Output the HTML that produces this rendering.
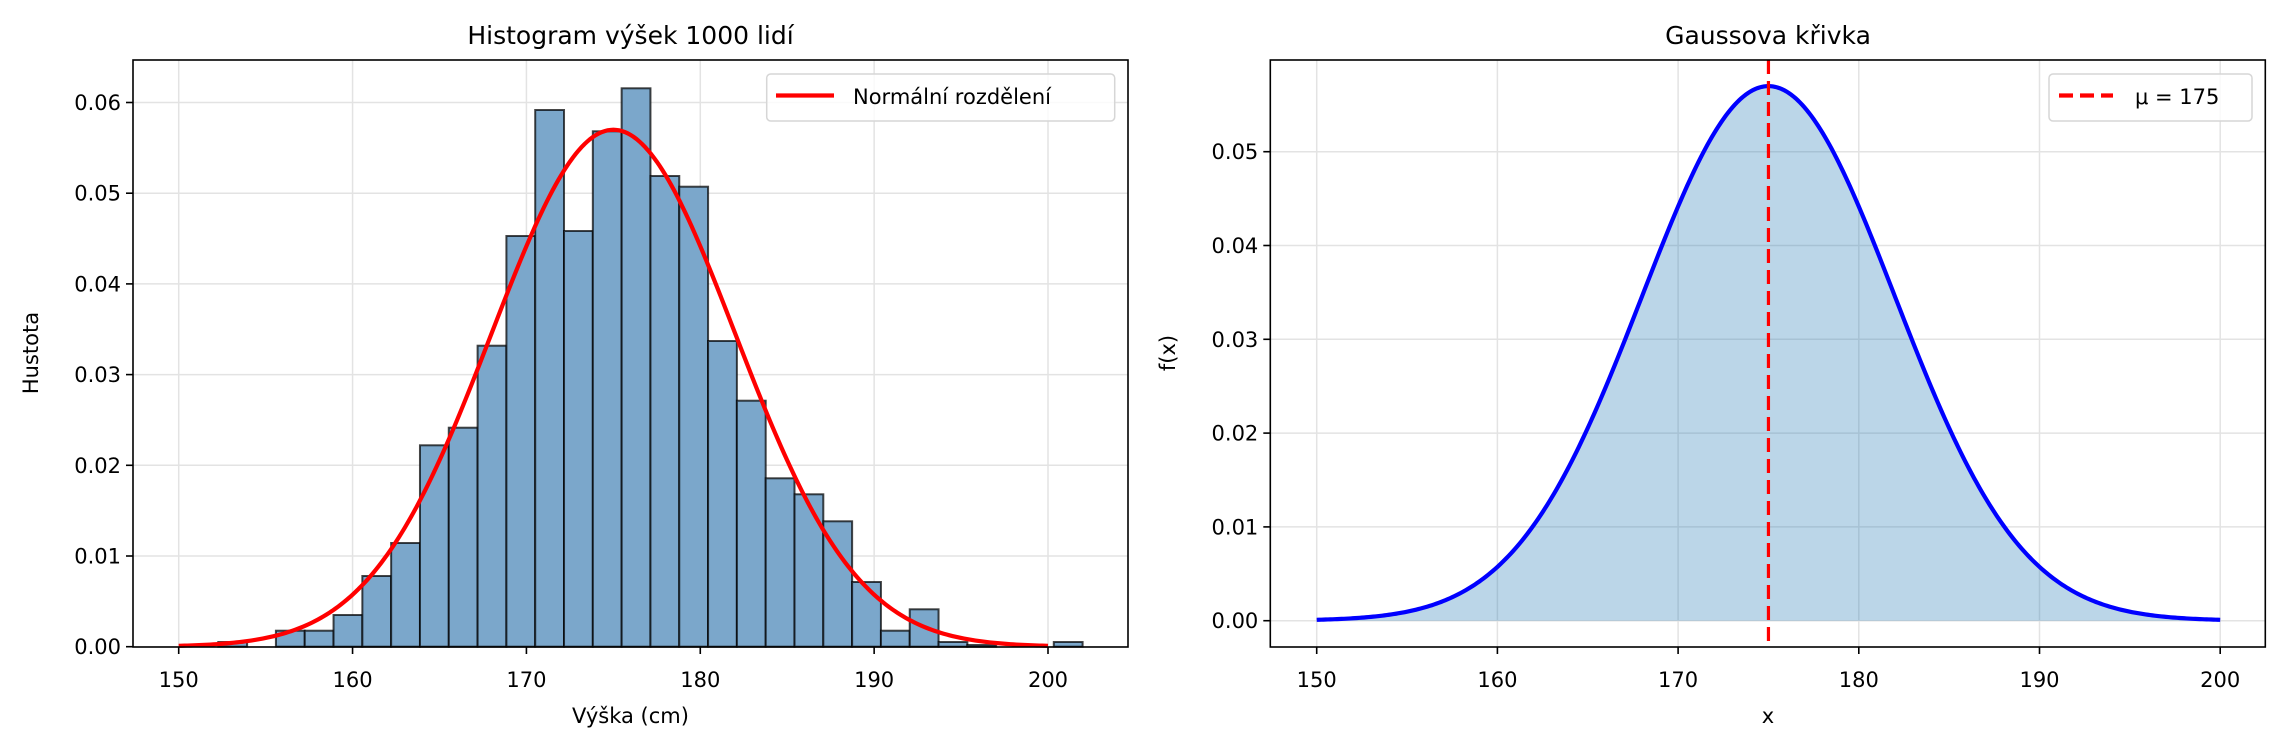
<!DOCTYPE html>
<html><head><meta charset="utf-8"><style>
html,body{margin:0;padding:0;background:#fff}
svg{display:block}
text{font-family:"DejaVu Sans","Liberation Sans",sans-serif;fill:#000}
</style></head><body>
<svg id="s" width="2284" height="750" viewBox="0 0 2284 750" xmlns="http://www.w3.org/2000/svg">
<rect width="2284" height="750" fill="#fff"/>
<g id="g1"></g>
<g id="g2"></g>
<text x="630.5" y="44" font-size="25" text-anchor="middle">Histogram výšek 1000 lidí</text>
<text x="1768" y="44" font-size="25" text-anchor="middle">Gaussova křivka</text>
<text x="630.5" y="723" font-size="21" text-anchor="middle">Výška (cm)</text>
<text x="1768" y="723" font-size="21" text-anchor="middle">x</text>
<text transform="translate(38,353) rotate(-90)" font-size="21" text-anchor="middle">Hustota</text>
<text transform="translate(1175,353) rotate(-90)" font-size="21" text-anchor="middle">f(x)</text>
<rect x="766.7" y="74" width="348" height="47" rx="4" fill="#fff" fill-opacity="0.8" stroke="#d6d6d6" stroke-width="1.5"/>
<line x1="776" y1="95.5" x2="834" y2="95.5" stroke="#ff0000" stroke-width="4.2"/>
<text x="853" y="104" font-size="21">Normální rozdělení</text>
<rect x="2049" y="74" width="203" height="47" rx="4" fill="#fff" fill-opacity="0.8" stroke="#d6d6d6" stroke-width="1.5"/>
<line x1="2059" y1="95.5" x2="2113" y2="95.5" stroke="#ff0000" stroke-width="4.2" stroke-dasharray="14,7"/>
<text x="2135" y="104" font-size="21">μ = 175</text>
</svg>
<script>
const NS="http://www.w3.org/2000/svg";
function el(p,t,a,txt){const e=document.createElementNS(NS,t);for(const k in a)e.setAttribute(k,a[k]);if(txt!==undefined)e.textContent=txt;p.appendChild(e);return e;}
function pdf(x){return Math.exp(-0.5*((x-175)/7)**2)/(7*Math.sqrt(2*Math.PI));}
const g1=document.getElementById('g1');
const L={x0:133,x1:1128,y0:60,y1:647};
const lx=v=>178.7+(v-150)*17.386, ly=d=>646.7-d*9070;
[150,160,170,180,190,200].forEach(v=>el(g1,'line',{x1:lx(v),x2:lx(v),y1:L.y0,y2:L.y1,stroke:'#e3e3e3','stroke-width':1.5}));
[0,0.01,0.02,0.03,0.04,0.05,0.06].forEach(v=>el(g1,'line',{x1:L.x0,x2:L.x1,y1:ly(v),y2:ly(v),stroke:'#e3e3e3','stroke-width':1.5}));
const tops=[642,647,630.7,630.7,615,576,543,445.3,427.7,345.7,236,110,231,131.3,88.3,176,186.7,341,400.7,478.3,494.3,521.3,582,630.7,609.3,642,645,647,647,642];
const bw=28.81;
tops.forEach((t,i)=>{const x=218.3+bw*i;
 el(g1,'rect',{x:x,y:t,width:bw,height:646.7-t,fill:'#7ba7cb',stroke:'rgba(0,0,0,0.72)','stroke-width':2});});
let d='';for(let i=0;i<=300;i++){const v=150+50*i/300;d+=(i?'L':'M')+lx(v).toFixed(2)+','+ly(pdf(v)).toFixed(2);}
el(g1,'path',{d:d,fill:'none',stroke:'#ff0000','stroke-width':4.2});
el(g1,'rect',{x:L.x0,y:L.y0,width:L.x1-L.x0,height:L.y1-L.y0,fill:'none',stroke:'#000','stroke-width':1.6});
[150,160,170,180,190,200].forEach(v=>{el(g1,'line',{x1:lx(v),x2:lx(v),y1:L.y1,y2:L.y1+7,stroke:'#000','stroke-width':1.6});
 el(g1,'text',{x:lx(v),y:687,'font-size':21,'text-anchor':'middle'},String(v));});
[0,0.01,0.02,0.03,0.04,0.05,0.06].forEach(v=>{el(g1,'line',{x1:L.x0-7,x2:L.x0,y1:ly(v),y2:ly(v),stroke:'#000','stroke-width':1.6});
 el(g1,'text',{x:L.x0-12,y:ly(v)+7.5,'font-size':21,'text-anchor':'end'},v.toFixed(2));});
const g2=document.getElementById('g2');
const R={x0:1270.3,x1:2265.3,y0:60,y1:647};
const rx=v=>1316.7+(v-150)*18.07, ry=d=>620.7-d*9380;
[150,160,170,180,190,200].forEach(v=>el(g2,'line',{x1:rx(v),x2:rx(v),y1:R.y0,y2:R.y1,stroke:'#e3e3e3','stroke-width':1.5}));
[0,0.01,0.02,0.03,0.04,0.05].forEach(v=>el(g2,'line',{x1:R.x0,x2:R.x1,y1:ry(v),y2:ry(v),stroke:'#e3e3e3','stroke-width':1.5}));
let pts=[];for(let i=0;i<=400;i++){const v=150+50*i/400;pts.push(rx(v).toFixed(2)+','+ry(pdf(v)).toFixed(2));}
el(g2,'path',{d:'M'+rx(150)+','+ry(0)+'L'+pts.join('L')+'L'+rx(200)+','+ry(0)+'Z',fill:'#1f77b4','fill-opacity':0.3});
el(g2,'path',{d:'M'+pts.join('L'),fill:'none',stroke:'#0000ff','stroke-width':4.2});
el(g2,'line',{x1:rx(175),x2:rx(175),y1:R.y0,y2:R.y1,stroke:'#ff0000','stroke-width':3.2,'stroke-dasharray':'14,7'});
el(g2,'rect',{x:R.x0,y:R.y0,width:R.x1-R.x0,height:R.y1-R.y0,fill:'none',stroke:'#000','stroke-width':1.6});
[150,160,170,180,190,200].forEach(v=>{el(g2,'line',{x1:rx(v),x2:rx(v),y1:R.y1,y2:R.y1+7,stroke:'#000','stroke-width':1.6});
 el(g2,'text',{x:rx(v),y:687,'font-size':21,'text-anchor':'middle'},String(v));});
[0,0.01,0.02,0.03,0.04,0.05].forEach(v=>{el(g2,'line',{x1:R.x0-7,x2:R.x0,y1:ry(v),y2:ry(v),stroke:'#000','stroke-width':1.6});
 el(g2,'text',{x:R.x0-12,y:ry(v)+7.5,'font-size':21,'text-anchor':'end'},v.toFixed(2));});
</script>
</body></html>
